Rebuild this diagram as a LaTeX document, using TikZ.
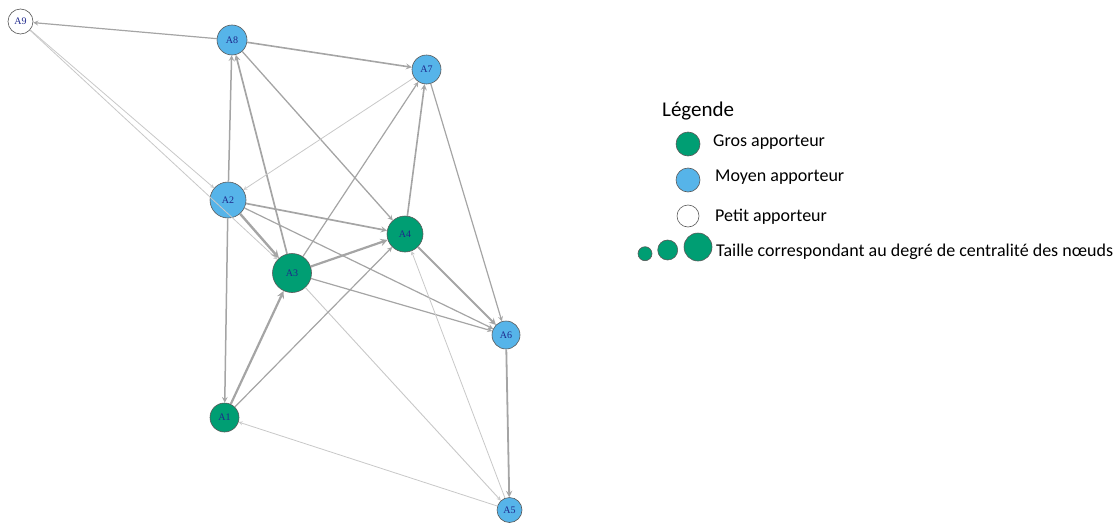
\documentclass[tikz,border=0pt]{standalone}
\usepackage{fontspec}
\setmainfont{Liberation Serif}
\newfontfamily\legfont{Carlito}
\usepackage{tikz}
\usetikzlibrary{positioning}

\definecolor{vert}{RGB}{0,158,115}
\definecolor{bleu}{RGB}{86,180,233}
\definecolor{etiq}{RGB}{30,40,140}
\definecolor{trait}{RGB}{165,165,165}
\definecolor{clair}{RGB}{200,200,200}

\begin{document}
\begin{tikzpicture}[
        x=1pt, y=-1pt,
        sommet/.style={circle, draw=black!65, line width=0.6pt, inner sep=0,
            font=\fontsize{10}{10}\selectfont, text=etiq},
        legpt/.style={circle, draw=black!65, line width=0.6pt, inner sep=0},
        legtexte/.style={anchor=base west, inner sep=0,
            font=\legfont\fontsize{18}{18}\selectfont},
        >=stealth
    ]
        \useasboundingbox (0,0) rectangle (1118,522);

        % sommets : nom/x/y/diametre/couleur
        \def\sommets{%
            A9/20.5/21.5/25/white,%
            A8/232/40/30/bleu,%
            A7/426.5/69.5/29/bleu,%
            A2/228/200/36/bleu,%
            A4/405/234/36/vert,%
            A3/292/273/39/vert,%
            A6/506/335/28/bleu,%
            A1/224.5/417.5/29/vert,%
            A5/509.5/510/25/bleu%
        }
        \foreach \nom/\x/\y/\d/\coul in \sommets {
            \node[sommet, fill=\coul, minimum size=\d pt] (\nom) at (\x,\y) {\nom};
        }

        % liens : source/cible/epaisseur/couleur
        \foreach \a/\b/\w/\c in {
            A8/A9/1.2/trait, A9/A2/0.8/clair, A9/A3/0.8/clair,
            A8/A7/1.6/trait, A2/A8/1.5/trait, A3/A8/1.7/trait,
            A8/A4/1.3/trait, A7/A2/0.8/clair, A3/A7/1.2/trait,
            A4/A7/1.6/trait, A7/A6/1.2/trait, A2/A4/1.7/trait,
            A2/A3/2.4/trait, A2/A6/1.2/trait, A2/A1/1.5/trait,
            A3/A4/2.2/trait, A3/A6/1.2/trait, A1/A3/2.2/trait,
            A3/A5/0.9/clair, A4/A6/1.9/trait, A1/A4/1.2/trait,
            A5/A4/0.8/clair, A6/A5/1.8/trait, A5/A1/0.8/clair%
        }{
            \draw[->, \c, line width=\w pt] (\a) -- (\b);
        }

        % legende
        \node[anchor=base west, inner sep=0, font=\legfont\fontsize{21}{22}\selectfont]
            (titre) at (662,116.7) {Légende};
        \node[legpt, fill=vert, minimum size=24pt] (lgros) at (688,144) {};
        \node[legpt, fill=bleu, minimum size=24pt] (lmoyen) at (688,180) {};
        \node[legpt, fill=white, minimum size=22pt] (lpetit) at (688,216) {};
        \node[legtexte] (tgros) at (713,146.7) {Gros apporteur};
        \node[legtexte] (tmoyen) at (715,181.7) {Moyen apporteur};
        \node[legtexte] (tpetit) at (715,221) {Petit apporteur};

        % tailles
        \node[legpt, fill=vert, minimum size=14pt] (t1) at (645,253.7) {};
        \node[legpt, fill=vert, minimum size=20pt] (t2) at (667.7,250) {};
        \node[legpt, fill=vert, minimum size=28pt] (t3) at (698,247) {};
        \node[legtexte] (ttaille) at (716,256.7)
            {Taille correspondant au degré de centralité des nœuds};
    \end{tikzpicture}
\end{document}
